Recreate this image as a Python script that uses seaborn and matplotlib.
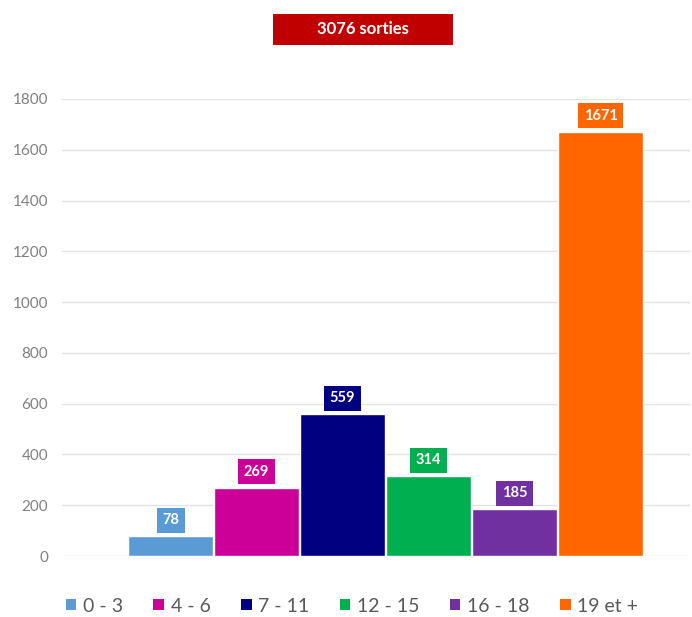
import matplotlib
matplotlib.use("Agg")
import matplotlib.pyplot as plt
from matplotlib.patches import Rectangle, Patch
import seaborn as sns
import pandas as pd

# Sorties by age group
age_groups = ["0 - 3", "4 - 6", "7 - 11", "12 - 15", "16 - 18", "19 et +"]
sorties = [78, 269, 559, 314, 185, 1671]
colors = ["#5B9BD5", "#CC0099", "#000080", "#00B050", "#7030A0", "#FF6600"]
total_label = "3076 sorties"
y_ticks = [0, 200, 400, 600, 800, 1000, 1200, 1400, 1600, 1800]

sns.set_theme(style="white")
plt.rcParams["font.family"] = ["Lato", "DejaVu Sans"]

df = pd.DataFrame({"groupe": age_groups, "sorties": sorties})

W, H = 692, 617
fig = plt.figure(figsize=(W / 100, H / 100), dpi=100)
ax = fig.add_axes([62 / W, 61 / H, (690 - 62) / W, (556 - 99) / H])

sns.barplot(data=df, x="groupe", y="sorties", hue="groupe",
            order=age_groups, hue_order=age_groups, palette=colors,
            width=0.98, legend=False, ax=ax, saturation=1)

ax.set_xlim(-1.262, 6.04)
ax.set_ylim(0, 1800)
ax.set_yticks(y_ticks)
ax.set_yticklabels([str(t) for t in y_ticks], color="#808080", fontsize=11)
ax.tick_params(axis="y", length=0, pad=10)
ax.set_xticks([])
ax.set_xlabel("")
ax.set_ylabel("")
ax.yaxis.grid(True, color="#E3E3E3", linewidth=1)
ax.set_axisbelow(True)
for s in ax.spines.values():
    s.set_visible(False)

# value labels in boxes of the bar colour
for i, (v, c) in enumerate(zip(sorties, colors)):
    ax.annotate(str(v), xy=(i, v), xytext=(0, 11.5), textcoords="offset points",
                ha="center", va="center", color="white", fontsize=10.5,
                fontweight="bold",
                bbox=dict(boxstyle="square,pad=0.38", fc=c, ec="none"))

# title banner
fig.patches.append(Rectangle((273 / W, 1 - 45 / H), (453 - 273) / W, 31 / H,
                             transform=fig.transFigure, fc="#C00000", ec="none"))
fig.text(363 / W, 1 - 29.5 / H, total_label, ha="center", va="center",
         color="white", fontsize=12, fontweight="bold")

handles = [Patch(facecolor=c, edgecolor="none") for c in colors]
fig.legend(handles, age_groups, loc="center", bbox_to_anchor=(352 / W, 1 - 606 / H),
           ncol=6, frameon=False, fontsize=14, handlelength=0.55, handleheight=0.55,
           handletextpad=0.35, columnspacing=1.55, labelcolor="#595959")

fig.savefig("out.png", dpi=100)
